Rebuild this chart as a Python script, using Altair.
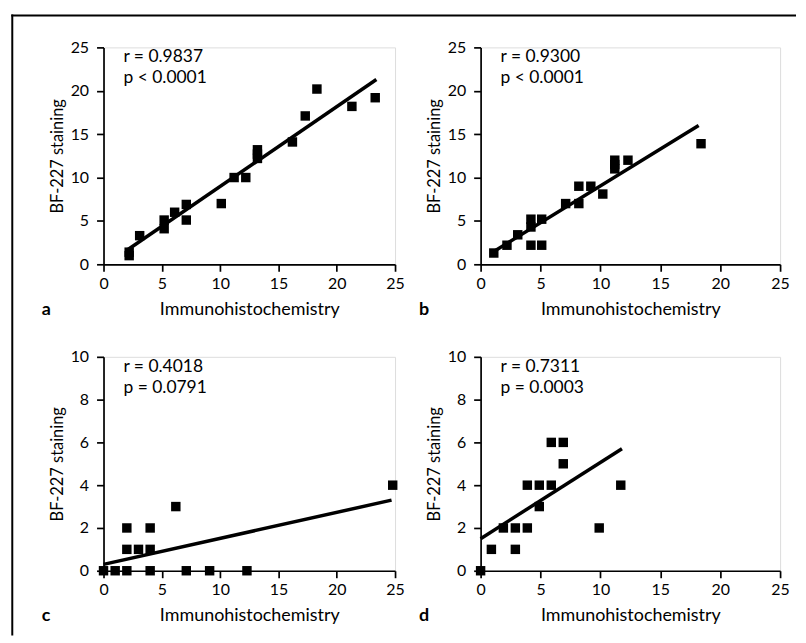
import altair as alt
import pandas as pd

FONT = "Lato"

# Panel a
a_x = [2.2, 2.2, 3.1, 5.2, 5.2, 6.1, 7.1, 7.1, 10.1, 11.2, 12.2, 13.2, 13.2, 13.2, 16.2, 17.3, 18.3, 21.3, 23.3]
a_y = [1.0, 1.4, 3.3, 4.1, 5.1, 6.0, 5.1, 6.9, 7.0, 10.0, 10.0, 12.2, 12.7, 13.2, 14.1, 17.1, 20.2, 18.2, 19.2]
a_line_x = [2.1, 23.4]
a_line_y = [1.7, 21.3]

# Panel b
b_x = [1.1, 2.2, 3.1, 4.2, 4.2, 4.2, 5.1, 5.1, 7.1, 8.2, 8.2, 9.2, 10.2, 11.2, 11.2, 11.2, 12.3, 18.4]
b_y = [1.3, 2.2, 3.4, 2.2, 4.3, 5.2, 2.2, 5.2, 7.0, 7.0, 9.0, 9.0, 8.1, 11.0, 11.5, 12.0, 12.0, 13.9]
b_line_x = [0.9, 18.2]
b_line_y = [1.3, 16.0]

# Panel c
c_x = [0, 1, 2, 2, 2, 3, 4, 4, 4, 6.2, 7.1, 9.1, 12.3, 24.8]
c_y = [0, 0, 0, 1, 2, 1, 0, 1, 2, 3, 0, 0, 0, 4]
c_line_x = [0, 24.7]
c_line_y = [0.3, 3.3]

# Panel d
d_x = [0, 0.9, 1.9, 2.9, 2.9, 3.9, 3.9, 4.9, 4.9, 5.9, 5.9, 6.9, 6.9, 9.9, 11.7]
d_y = [0, 1, 2, 2, 1, 4, 2, 4, 3, 4, 6, 6, 5, 2, 4]
d_line_x = [0, 11.8]
d_line_y = [1.5, 5.7]

x_ticks = [0, 5, 10, 15, 20, 25]
y_ticks_top = [0, 5, 10, 15, 20, 25]
y_ticks_bottom = [0, 2, 4, 6, 8, 10]

stats = {
    "a": ["r = 0.9837", "p < 0.0001"],
    "b": ["r = 0.9300", "p < 0.0001"],
    "c": ["r = 0.4018", "p = 0.0791"],
    "d": ["r = 0.7311", "p = 0.0003"],
}

X_TITLE = "Immunohistochemistry"
Y_TITLE = "BF-227 staining"


def panel(px, py, lx, ly, ymax, yticks, letter, width, height, frame=False):
    pts_df = pd.DataFrame({"x": px, "y": py})
    line_df = pd.DataFrame({"x": lx, "y": ly})
    xs = alt.Scale(domain=[0, 25], nice=False, zero=False)
    ys = alt.Scale(domain=[0, ymax], nice=False, zero=False)
    xax = alt.Axis(values=x_ticks, title=X_TITLE, grid=False, domainColor="black",
                   domainWidth=1.7, tickColor="black", tickWidth=1.7, tickSize=7,
                   labelFontSize=16, labelColor="black", labelPadding=4, labelFont=FONT,
                   titleFont=FONT, titleFontSize=18, titleFontWeight="normal",
                   titleColor="black", titlePadding=9, labelFlush=False)
    yax = alt.Axis(values=yticks, title=Y_TITLE, grid=False, domainColor="black",
                   domainWidth=1.7, tickColor="black", tickWidth=1.7, tickSize=7,
                   labelFontSize=16, labelColor="black", labelPadding=8, labelFont=FONT,
                   titleFont=FONT, titleFontSize=16.5, titleFontWeight="normal",
                   titleColor="black", titlePadding=5, labelFlush=False)
    pts = alt.Chart(pts_df).mark_square(size=90, color="black", opacity=1).encode(
        x=alt.X("x:Q", scale=xs, axis=xax),
        y=alt.Y("y:Q", scale=ys, axis=yax),
    )
    line = alt.Chart(line_df).mark_line(color="black", strokeWidth=3.5).encode(
        x=alt.X("x:Q", scale=xs), y=alt.Y("y:Q", scale=ys)
    )
    s = stats[letter]
    t1 = alt.Chart(pd.DataFrame({"t": [s[0]]})).mark_text(
        align="left", baseline="middle", font=FONT, fontSize=17.5, color="black"
    ).encode(text="t:N", x=alt.value(20), y=alt.value(10))
    t2 = alt.Chart(pd.DataFrame({"t": [s[1]]})).mark_text(
        align="left", baseline="middle", font=FONT, fontSize=17.5, color="black"
    ).encode(text="t:N", x=alt.value(20), y=alt.value(31))
    let = alt.Chart(pd.DataFrame({"t": [letter]})).mark_text(
        align="left", baseline="alphabetic", font=FONT, fontSize=18, fontWeight="bold", color="black"
    ).encode(text="t:N", x=alt.value(-62), y=alt.value(height + 51))
    layers = [pts, line, t1, t2, let]
    if frame:
        fdf = pd.DataFrame({"k": [0]})
        vline = alt.Chart(fdf).mark_rule(color="black", strokeWidth=2).encode(
            x=alt.value(-91.7), y=alt.value(-33), y2=alt.value(591))
        hline = alt.Chart(fdf).mark_rule(color="black", strokeWidth=2).encode(
            x=alt.value(-92.7), x2=alt.value(696), y=alt.value(-32))
        layers = [vline, hline] + layers
    return alt.layer(*layers).properties(width=width, height=height)


pa = panel(a_x, a_y, a_line_x, a_line_y, 25, y_ticks_top, "a", 293, 218, frame=True)
pb = panel(b_x, b_y, b_line_x, b_line_y, 25, y_ticks_top, "b", 301, 218)
pc = panel(c_x, c_y, c_line_x, c_line_y, 10, y_ticks_bottom, "c", 293, 215)
pd_ = panel(d_x, d_y, d_line_x, d_line_y, 10, y_ticks_bottom, "d", 301, 215)

chart = alt.ConcatChart(
    concat=[pa, pb, pc, pd_], columns=2,
    spacing={"row": 93, "column": 86}, bounds="flush",
).properties(
    padding={"left": 1, "top": 3, "right": 0, "bottom": 0},
    background="white",
).configure_view(stroke=None).configure(font=FONT)

chart.save("out.html", embed_options={"renderer": "svg", "actions": False})
